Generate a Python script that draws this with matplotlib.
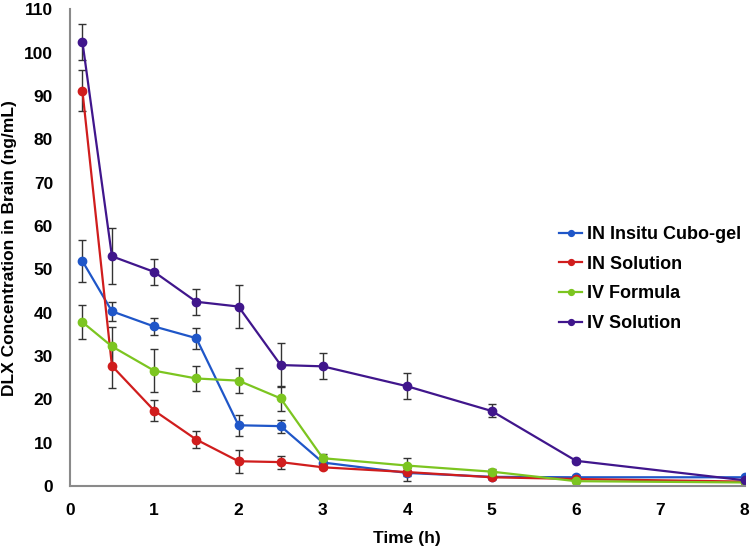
import matplotlib
matplotlib.use("Agg")
import matplotlib.pyplot as plt

plt.rcParams['font.family'] = ['Liberation Sans', 'DejaVu Sans']
plt.rcParams['font.weight'] = 'bold'

time_h = [0.15, 0.5, 1, 1.5, 2, 2.5, 3, 4, 5, 6, 8]

series_names = ["IN Insitu Cubo-gel", "IN Solution", "IV Formula", "IV Solution"]

cubo_gel = [51.9, 40.3, 36.8, 34.1, 14.0, 13.8, 5.4, 3.0, 2.1, 2.0, 2.0]
cubo_gel_err = [4.9, 2.2, 2.0, 2.4, 2.4, 1.5, 0.8, 1.8, 0.6, 0.5, 0.3]

in_solution = [91.2, 27.7, 17.4, 10.7, 5.7, 5.5, 4.3, 3.2, 2.0, 1.6, 1.0]
in_solution_err = [4.7, 5.0, 2.5, 2.0, 2.6, 1.5, 0.5, 1.0, 0.5, 0.4, 0.3]

iv_formula = [37.8, 32.2, 26.6, 24.8, 24.3, 20.2, 6.4, 4.7, 3.3, 1.1, 0.8]
iv_formula_err = [4.0, 4.5, 5.0, 2.9, 2.9, 2.9, 0.9, 1.8, 0.5, 0.3, 0.2]

iv_solution = [102.5, 53.0, 49.4, 42.5, 41.4, 27.9, 27.6, 23.0, 17.3, 5.8, 1.3]
iv_solution_err = [4.1, 6.5, 3.0, 3.0, 5.0, 5.0, 3.0, 3.0, 1.5, 0.4, 0.3]

colors = ["#1f56c8", "#d01d1d", "#7cc520", "#40168c"]

values = [cubo_gel, in_solution, iv_formula, iv_solution]
errors = [cubo_gel_err, in_solution_err, iv_formula_err, iv_solution_err]

fig = plt.figure(figsize=(7.5, 5.46), dpi=100)
ax = fig.add_axes([0.093, 0.11, 0.9, 0.873])

for name, vals, errs, c in zip(series_names, values, errors, colors):
    ax.errorbar(time_h, vals, yerr=errs, color=c, marker='o', markersize=6,
                linewidth=1.6, ecolor='#333333', elinewidth=1.0, capsize=3,
                capthick=1.0, label=name)

ax.set_xlim(0, 8)
ax.set_ylim(0, 110)
ax.set_xticks(range(0, 9))
ax.set_yticks(range(0, 111, 10))
ax.tick_params(length=0, labelsize=12.5, pad=12)
for lab in ax.get_xticklabels() + ax.get_yticklabels():
    lab.set_fontweight('bold')

for s in ['top', 'right']:
    ax.spines[s].set_visible(False)
for s in ['left', 'bottom']:
    ax.spines[s].set_color('#8a8a8a')
    ax.spines[s].set_linewidth(1.5)

ax.set_xlabel("Time (h)", fontsize=12.5, fontweight='bold', labelpad=10)
ax.set_ylabel("DLX Concentration in Brain (ng/mL)", fontsize=12.5, fontweight='bold', labelpad=5)

handles, labels = ax.get_legend_handles_labels()
handles = [h[0] for h in handles]
leg = fig.legend(handles, labels, loc='upper left', bbox_to_anchor=(559 / 750, 1 - 226 / 546),
                 bbox_transform=fig.transFigure, frameon=False, fontsize=13,
                 handlelength=1.28, handletextpad=0.25, borderpad=0, borderaxespad=0,
                 labelspacing=0.7, markerscale=0.7)
for t in leg.get_texts():
    t.set_fontweight('bold')

fig.savefig("out.png", dpi=100)
